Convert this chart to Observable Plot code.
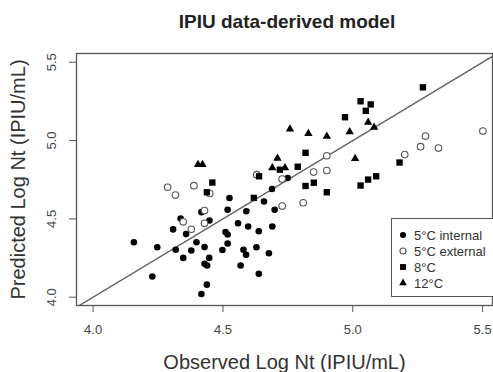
<!DOCTYPE html>
<html>
<head>
<meta charset="utf-8">
<script src="https://cdn.jsdelivr.net/npm/d3@7"></script>
<script src="https://cdn.jsdelivr.net/npm/@observablehq/plot@0.6"></script>
<style>
  html, body { margin: 0; padding: 0; background: #fff; }
  #wrap { position: relative; width: 493px; height: 372px; overflow: hidden; font-family: "Liberation Sans", Arial, sans-serif; }
  #title { height: 40px; width: 493px; position: relative; }
  #title span { position: absolute; left: 287px; top: 11px; transform: translateX(-50%); white-space: nowrap; font-weight: bold; font-size: 19px; color: #222; }
  #legend { position: absolute; left: 391px; top: 218px; width: 110px; height: 79px; border: 1px solid #555; background: #fff; box-sizing: border-box; }
  #legend .row { position: absolute; left: 6px; height: 16px; display: flex; align-items: center; font-size: 13px; color: #333; white-space: nowrap; }
  #legend svg { margin-right: 6px; }
</style>
</head>
<body>
<div id="wrap">
  <div id="title"><span>IPIU data-derived model</span></div>
  <div id="chart"></div>
  <div id="legend"></div>
</div>
<script>
// ---- data ----
const seriesNames = ["5°C internal", "5°C external", "8°C", "12°C"];

const internalObs  = [4.157, 4.247, 4.228, 4.308, 4.337, 4.358, 4.318, 4.347, 4.378, 4.398, 4.417, 4.448, 4.429, 4.447, 4.429, 4.439, 4.438, 4.417, 4.498, 4.510, 4.518, 4.518, 4.518, 4.525, 4.558, 4.590, 4.597, 4.579, 4.589, 4.568, 4.629, 4.638, 4.638, 4.658, 4.677, 4.690, 4.699, 4.689, 4.749];
const internalPred = [4.351, 4.319, 4.132, 4.433, 4.502, 4.403, 4.303, 4.251, 4.298, 4.351, 4.543, 4.490, 4.320, 4.251, 4.213, 4.202, 4.080, 4.020, 4.301, 4.416, 4.400, 4.343, 4.558, 4.633, 4.472, 4.549, 4.451, 4.303, 4.271, 4.202, 4.319, 4.421, 4.149, 4.611, 4.281, 4.451, 4.558, 4.691, 4.761];

const externalObs  = [4.287, 4.317, 4.388, 4.449, 4.429, 4.347, 4.429, 4.378, 4.630, 4.728, 4.728, 4.809, 4.849, 4.900, 4.900, 5.200, 5.261, 5.330, 5.280, 5.501];
const externalPred = [4.702, 4.652, 4.712, 4.662, 4.553, 4.481, 4.472, 4.434, 4.782, 4.754, 4.582, 4.603, 4.799, 4.809, 4.903, 4.911, 4.961, 4.952, 5.029, 5.061];

const c8Obs  = [4.459, 4.438, 4.639, 4.619, 4.719, 4.788, 4.818, 4.818, 4.850, 4.900, 4.970, 5.030, 5.069, 5.050, 5.270, 5.180, 5.030, 5.059, 5.090];
const c8Pred = [4.732, 4.670, 4.772, 4.634, 4.814, 4.833, 4.922, 4.710, 4.731, 4.670, 5.149, 5.251, 5.231, 5.190, 5.340, 4.860, 4.713, 4.751, 4.772];

const c12Obs  = [4.404, 4.421, 4.710, 4.690, 4.739, 4.758, 4.829, 4.900, 4.988, 5.059, 5.082, 5.009];
const c12Pred = [4.847, 4.847, 4.887, 4.826, 4.826, 5.074, 5.044, 5.027, 5.056, 5.117, 5.084, 4.885];

const xTicks = [4.0, 4.5, 5.0, 5.5];
const yTicks = [4.0, 4.5, 5.0, 5.5];
const xDomain = [3.936, 5.538];
const yDomain = [3.947, 5.556];

// ---- build table ----
const groups = [
  {name: seriesNames[0], obs: internalObs, pred: internalPred},
  {name: seriesNames[1], obs: externalObs, pred: externalPred},
  {name: seriesNames[2], obs: c8Obs, pred: c8Pred},
  {name: seriesNames[3], obs: c12Obs, pred: c12Pred}
];
const rows = groups.flatMap(g => g.obs.map((o, i) => ({series: g.name, observed: o, predicted: g.pred[i]})));
const bySeries = name => rows.filter(d => d.series === name);

const styles = {
  [seriesNames[0]]: {symbol: "circle", fill: "#000", stroke: "none", r: 3.3, strokeWidth: 0},
  [seriesNames[1]]: {symbol: "circle", fill: "#fff", stroke: "#555", r: 3.3, strokeWidth: 1.1},
  [seriesNames[2]]: {symbol: "square", fill: "#000", stroke: "none", r: 3.6, strokeWidth: 0},
  [seriesNames[3]]: {symbol: "triangle", fill: "#000", stroke: "none", r: 3.1, strokeWidth: 0}
};

// identity line y = x spanning the x domain
const identity = xDomain.map(v => ({observed: v, predicted: v}));

const chart = Plot.plot({
  width: 493,
  height: 332,
  marginTop: 13,
  marginBottom: 67,
  marginLeft: 76,
  marginRight: 1,
  style: {fontFamily: "'Liberation Sans', Arial, sans-serif", background: "#fff", color: "#333"},
  x: {domain: xDomain, label: null},
  y: {domain: yDomain, label: null},
  marks: [
    Plot.line(identity, {x: "observed", y: "predicted", stroke: "#666", strokeWidth: 1.4, clip: true}),
    ...seriesNames.map(n => Plot.dot(bySeries(n), {x: "observed", y: "predicted", ...styles[n]})),
    Plot.frame({stroke: "#555", strokeWidth: 1.3}),
    Plot.axisX({ticks: xTicks, tickFormat: d3.format(".1f"), tickSize: 7, tickPadding: 12, fontSize: 13, stroke: "#555", fill: "#444", label: null}),
    Plot.axisX({ticks: [], label: "Observed Log Nt (IPIU/mL)", labelArrow: "none", labelAnchor: "center", labelOffset: 63, fontSize: 20, fill: "#333"}),
    Plot.axisY({ticks: yTicks, tickFormat: d3.format(".1f"), tickSize: 7, tickPadding: 14, tickRotate: -90, fontSize: 13, stroke: "#555", fill: "#444", label: null}),
    Plot.axisY({ticks: [], label: "Predicted Log Nt (IPIU/mL)", labelArrow: "none", labelAnchor: "center", labelOffset: 66, fontSize: 20, fill: "#333"})
  ]
});
document.getElementById("chart").appendChild(chart);

// ---- legend ----
const legend = document.getElementById("legend");
seriesNames.forEach((n, i) => {
  const s = styles[n];
  const row = document.createElement("div");
  row.className = "row";
  row.style.top = (8 + i * 16) + "px";
  const sym = d3.symbol(s.symbol === "circle" ? d3.symbolCircle : s.symbol === "square" ? d3.symbolSquare : d3.symbolTriangle, s.r * s.r * Math.PI * 0.85);
  const svg = d3.create("svg").attr("width", 10).attr("height", 10);
  svg.append("path").attr("d", sym()).attr("transform", "translate(5,5)")
     .attr("fill", s.fill).attr("stroke", s.stroke).attr("stroke-width", s.strokeWidth || null);
  row.appendChild(svg.node());
  const t = document.createElement("span");
  t.textContent = n;
  row.appendChild(t);
  legend.appendChild(row);
});
</script>
</body>
</html>
